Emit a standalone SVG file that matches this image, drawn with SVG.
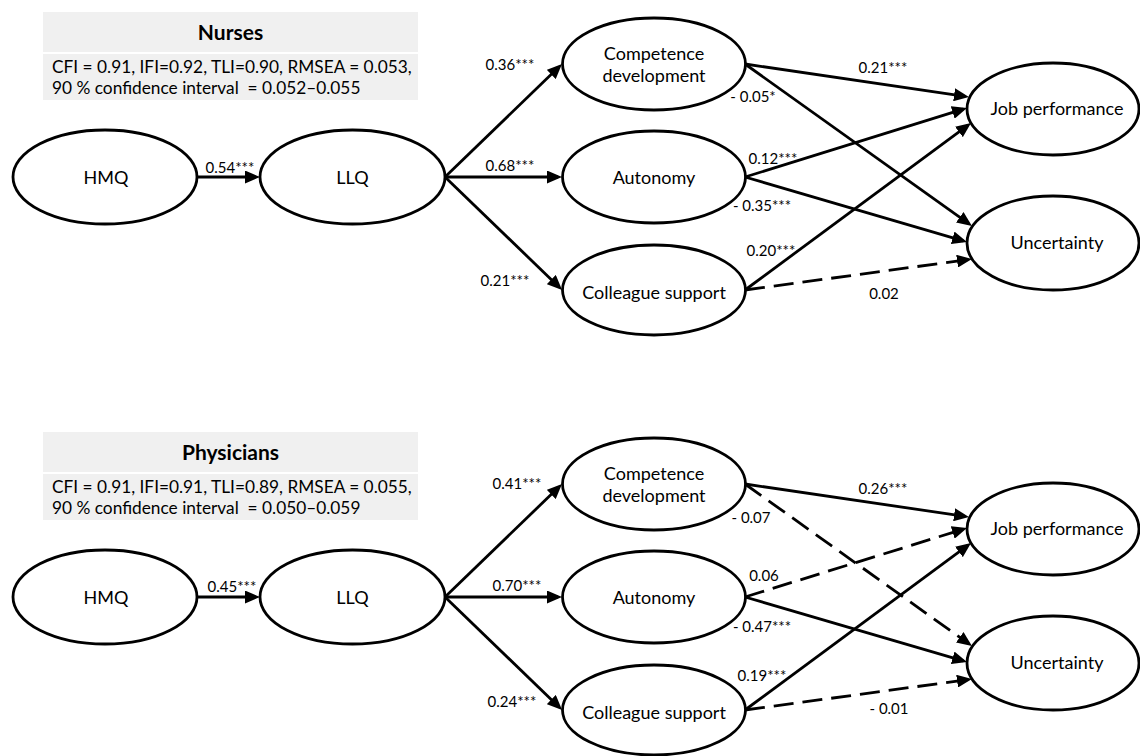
<svg xmlns="http://www.w3.org/2000/svg" width="1140" height="756" viewBox="0 0 1140 756">
<style>
text{font-family:Lato,"Liberation Sans",sans-serif;fill:#000}
.box{fill:#f0f0f0}
.title{font-size:21px;font-weight:bold;text-anchor:middle}
.stat{font-size:17.3px;white-space:pre}
.node ellipse{fill:#fff;stroke:#000;stroke-width:2.8}
.node text{font-size:18px;text-anchor:middle}
.lbl{font-size:15px;text-anchor:middle}
.e{stroke:#000;stroke-width:2.8;fill:none;marker-end:url(#ah)}
.d{stroke-dasharray:20 9}
</style>
<defs>
<marker id="ah" viewBox="0 0 15 13" refX="11" refY="6.5" markerWidth="15" markerHeight="13" markerUnits="userSpaceOnUse" orient="auto"><path d="M0,0 L15,6.5 L0,13 z" fill="#000"/></marker>
</defs>

<g id="fit-nurses">
<rect class="box" x="43" y="12" width="375" height="40"/>
<rect class="box" x="43" y="54" width="375" height="46"/>
<text class="title" x="230.5" y="39.5">Nurses</text>
<text class="stat" x="52" y="73">CFI = 0.91, IFI=0.92, TLI=0.90, RMSEA = 0.053,</text>
<text class="stat" x="52" y="94" xml:space="preserve">90 % confidence interval  = 0.052–0.055</text>
</g>
<g id="fit-physicians">
<rect class="box" x="43" y="432" width="375" height="40"/>
<rect class="box" x="43" y="474" width="375" height="46"/>
<text class="title" x="230.5" y="459.5">Physicians</text>
<text class="stat" x="52" y="493">CFI = 0.91, IFI=0.91, TLI=0.89, RMSEA = 0.055,</text>
<text class="stat" x="52" y="514" xml:space="preserve">90 % confidence interval  = 0.050–0.059</text>
</g>

<g id="connectors">
<line class="e" x1="197" y1="177" x2="256" y2="177"/>
<line class="e" x1="445" y1="177" x2="559.1" y2="66.8"/>
<line class="e" x1="445" y1="177" x2="558" y2="177"/>
<line class="e" x1="445" y1="177" x2="559.2" y2="287.2"/>
<line class="e" x1="745" y1="64" x2="965" y2="96.4"/>
<line class="e" x1="745" y1="64" x2="968.7" y2="223.7"/>
<line class="e" x1="745" y1="177" x2="963.2" y2="109.2"/>
<line class="e" x1="745" y1="177" x2="963.2" y2="240.9"/>
<line class="e" x1="745" y1="290" x2="967.8" y2="125.4"/>
<line class="e d" x1="745" y1="290" x2="968" y2="259.6"/>

<line class="e" x1="197" y1="597" x2="256" y2="597"/>
<line class="e" x1="445" y1="597" x2="559.1" y2="486.8"/>
<line class="e" x1="445" y1="597" x2="558" y2="597"/>
<line class="e" x1="445" y1="597" x2="559.2" y2="707.2"/>
<line class="e" x1="745" y1="484" x2="965" y2="516.4"/>
<line class="e d" x1="745" y1="484" x2="968.7" y2="643.7"/>
<line class="e d" x1="745" y1="597" x2="963.2" y2="529.2"/>
<line class="e" x1="745" y1="597" x2="963.2" y2="660.9"/>
<line class="e" x1="745" y1="710" x2="967.8" y2="545.4"/>
<line class="e d" x1="745" y1="710" x2="968" y2="679.6"/>

<text class="lbl" x="230" y="172.5">0.54***</text>
<text class="lbl" x="510" y="69.5">0.36***</text>
<text class="lbl" x="510" y="171">0.68***</text>
<text class="lbl" x="505" y="286">0.21***</text>
<text class="lbl" x="883" y="72.5">0.21***</text>
<text class="lbl" x="753" y="101.5">- 0.05*</text>
<text class="lbl" x="773" y="163.5">0.12***</text>
<text class="lbl" x="762" y="211">- 0.35***</text>
<text class="lbl" x="771" y="256">0.20***</text>
<text class="lbl" x="884" y="299">0.02</text>

<text class="lbl" x="232" y="592">0.45***</text>
<text class="lbl" x="517" y="488.5">0.41***</text>
<text class="lbl" x="517" y="591">0.70***</text>
<text class="lbl" x="512" y="707">0.24***</text>
<text class="lbl" x="883" y="493.5">0.26***</text>
<text class="lbl" x="751" y="522.5">- 0.07</text>
<text class="lbl" x="764" y="580.5">0.06</text>
<text class="lbl" x="762" y="631.5">- 0.47***</text>
<text class="lbl" x="762" y="681">0.19***</text>
<text class="lbl" x="889" y="714">- 0.01</text>
</g>

<g id="n-hmq" class="node"><ellipse cx="105" cy="177" rx="92" ry="47"/><text x="106" y="183.5">HMQ</text></g>
<g id="n-llq" class="node"><ellipse cx="352.5" cy="177" rx="92.5" ry="47"/><text x="352.5" y="183.5">LLQ</text></g>
<g id="n-comp" class="node"><ellipse cx="654" cy="64" rx="91.5" ry="46"/><text x="654" y="59.5">Competence</text><text x="654" y="81.5">development</text></g>
<g id="n-aut" class="node"><ellipse cx="654" cy="177" rx="91.5" ry="46"/><text x="654" y="184">Autonomy</text></g>
<g id="n-col" class="node"><ellipse cx="654" cy="290" rx="91.5" ry="45"/><text x="654" y="299">Colleague support</text></g>
<g id="n-jp" class="node"><ellipse cx="1053" cy="109" rx="86" ry="46"/><text x="1057" y="115">Job performance</text></g>
<g id="n-unc" class="node"><ellipse cx="1053" cy="243" rx="86" ry="47"/><text x="1057" y="249">Uncertainty</text></g>

<g id="p-hmq" class="node"><ellipse cx="105" cy="597" rx="92" ry="47"/><text x="106" y="603.5">HMQ</text></g>
<g id="p-llq" class="node"><ellipse cx="352.5" cy="597" rx="92.5" ry="47"/><text x="352.5" y="603.5">LLQ</text></g>
<g id="p-comp" class="node"><ellipse cx="654" cy="484" rx="91.5" ry="46"/><text x="654" y="479.5">Competence</text><text x="654" y="501.5">development</text></g>
<g id="p-aut" class="node"><ellipse cx="654" cy="597" rx="91.5" ry="46"/><text x="654" y="604">Autonomy</text></g>
<g id="p-col" class="node"><ellipse cx="654" cy="710" rx="91.5" ry="45"/><text x="654" y="719">Colleague support</text></g>
<g id="p-jp" class="node"><ellipse cx="1053" cy="529" rx="86" ry="46"/><text x="1057" y="535">Job performance</text></g>
<g id="p-unc" class="node"><ellipse cx="1053" cy="663" rx="86" ry="47"/><text x="1057" y="669">Uncertainty</text></g>
</svg>
